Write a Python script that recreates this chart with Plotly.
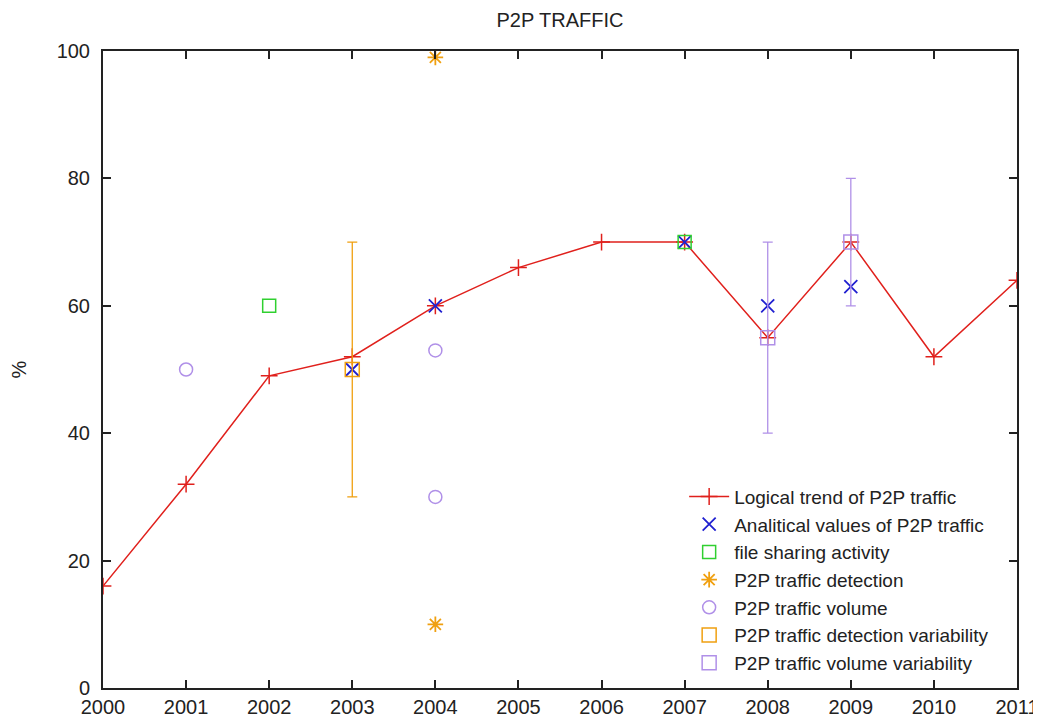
import plotly.graph_objects as go

years = [2000, 2001, 2002, 2003, 2004, 2005, 2006, 2007, 2008, 2009, 2010, 2011]
trend = [16, 32, 49, 52, 60, 66, 70, 70, 55, 70, 52, 64]

anal_x = [2003, 2004, 2007, 2008, 2009]
anal_y = [50, 60, 70, 60, 63]

share_x = [2002, 2007]
share_y = [60, 70]

detect_x = [2004, 2004]
detect_y = [99, 10]

vol_x = [2001, 2004, 2004]
vol_y = [50, 53, 30]

detvar_x = [2003]
detvar_y = [50]
detvar_lo = [30]
detvar_hi = [70]

volvar_x = [2008, 2009]
volvar_y = [55, 70]
volvar_lo = [40, 60]
volvar_hi = [70, 80]

RED = "#e0201c"
BLUE = "#2020d0"
GREEN = "#30d030"
ORANGE = "#f0a010"
PURPLE = "#b090e8"
FONT = "Liberation Sans, Arial, sans-serif"

fig = go.Figure()
fig.add_trace(go.Scatter(x=years, y=trend, mode="lines+markers", name="Logical trend of P2P traffic",
                         line=dict(color=RED, width=1.5),
                         marker=dict(symbol="cross-thin", size=12, line=dict(color=RED, width=1.5))))
fig.add_trace(go.Scatter(x=anal_x, y=anal_y, mode="markers", name="Analitical values of P2P traffic",
                         marker=dict(symbol="x-thin", size=13, color=BLUE, line=dict(color=BLUE, width=1.8))))
fig.add_trace(go.Scatter(x=share_x, y=share_y, mode="markers", name="file sharing activity",
                         marker=dict(symbol="square-open", size=13, color=GREEN, line=dict(color=GREEN, width=1.5))))
fig.add_trace(go.Scatter(x=detect_x, y=detect_y, mode="markers", name="P2P traffic detection",
                         marker=dict(symbol="asterisk-open", size=13, color=ORANGE, line=dict(color=ORANGE, width=1.8))))
fig.add_trace(go.Scatter(x=vol_x, y=vol_y, mode="markers", name="P2P traffic volume",
                         marker=dict(symbol="circle-open", size=13, color=PURPLE, line=dict(color=PURPLE, width=1.5))))
fig.add_trace(go.Scatter(x=detvar_x, y=detvar_y, mode="markers", name="P2P traffic detection variability",
                         marker=dict(symbol="square-open", size=14, color=ORANGE, line=dict(color=ORANGE, width=1.5)),
                         error_y=dict(type="data", symmetric=False,
                                      array=[h - v for h, v in zip(detvar_hi, detvar_y)],
                                      arrayminus=[v - l for v, l in zip(detvar_y, detvar_lo)],
                                      color=ORANGE, thickness=1.3, width=5)))
fig.add_trace(go.Scatter(x=volvar_x, y=volvar_y, mode="markers", name="P2P traffic volume variability",
                         marker=dict(symbol="square-open", size=14, color=PURPLE, line=dict(color=PURPLE, width=1.5)),
                         error_y=dict(type="data", symmetric=False,
                                      array=[h - v for h, v in zip(volvar_hi, volvar_y)],
                                      arrayminus=[v - l for v, l in zip(volvar_y, volvar_lo)],
                                      color=PURPLE, thickness=1.3, width=5)))

axis_common = dict(showgrid=False, zeroline=False, showline=True, linecolor="#222222", linewidth=2,
                   mirror="ticks", ticks="inside", ticklen=8, tickwidth=2, tickcolor="#222222",
                   automargin=False,
                   tickfont=dict(family=FONT, size=20, color="#222222"))

fig.update_layout(
    width=1033, height=712,
    margin=dict(l=95, r=24, t=43, b=32),
    paper_bgcolor="white", plot_bgcolor="white",
    title=dict(text="P2P TRAFFIC", x=0.5, xref="paper", y=0.983, yanchor="middle",
               font=dict(family=FONT, size=20, color="#222222")),
    xaxis=dict(range=[2000, 2011], tickmode="array", tickvals=years,
               ticktext=[str(y) for y in years], ticklabelstandoff=0, **axis_common),
    yaxis=dict(range=[0, 100], tickmode="array", tickvals=[0, 20, 40, 60, 80, 100],
               ticklabelstandoff=7,
               title=dict(text="%", standoff=48,
                          font=dict(family=FONT, size=20, color="#222222")),
               **axis_common),
    legend=dict(x=0.975, y=0.01, xanchor="right", yanchor="bottom", bgcolor="rgba(255,255,255,0)",
                font=dict(family=FONT, size=19, color="#222222"),
                tracegroupgap=0, itemwidth=40),
    showlegend=True,
)

fig.write_html("out.html")
